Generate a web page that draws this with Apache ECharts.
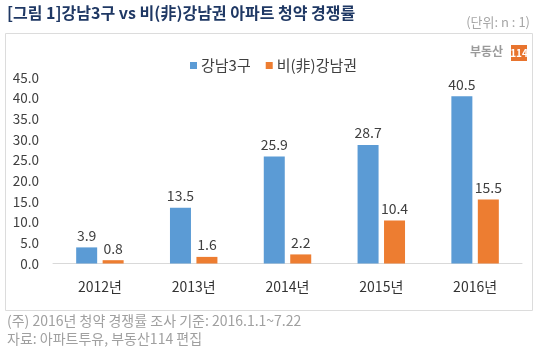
<!DOCTYPE html>
<html><head><meta charset="utf-8">
<script src="https://cdn.jsdelivr.net/npm/echarts@6/dist/echarts.min.js"></script>
<style>html,body{margin:0;padding:0;background:#fff}#c{width:540px;height:357px}</style>
</head><body><div id="c"></div>
<script>
var categories = ['2012년','2013년','2014년','2015년','2016년'];
var gangnam = [3.9, 13.5, 25.9, 28.7, 40.5];
var nonGangnam = [0.8, 1.6, 2.2, 10.4, 15.5];
var seriesNames = ['강남3구','비(非)강남권'];
var yTicks = {min:0, max:45, interval:5};
var FONT = '"Noto Sans CJK KR", "Noto Sans", sans-serif';

var chart = echarts.init(document.getElementById('c'));
chart.setOption({
  animation:false,
  textStyle:{fontFamily:FONT},
  graphic:[
    {type:'rect', shape:{x:5.5,y:33.5,width:527,height:277}, style:{fill:'#fff',stroke:'#dcdcdc',lineWidth:1}, z:-10},
    {type:'text', left:7, top:5, style:{text:'[그림 1]강남3구 vs 비(非)강남권 아파트 청약 경쟁률', font:'bold 16px '+FONT, fill:'#1f3864'}},
    {type:'text', right:10, top:16, style:{text:'(단위: n : 1)', font:'13px '+FONT, fill:'#a6a6a6'}},
    {type:'text', left:470, top:45, style:{text:'부동산', font:'bold 12px '+FONT, fill:'#9a9a9a'}},
    {type:'rect', shape:{x:511,y:45,width:16,height:16}, style:{fill:'#e8742e'}},
    {type:'text', x:519, y:53, style:{text:'114', font:'bold 10px '+FONT, fill:'#fff', textAlign:'center', textVerticalAlign:'middle'}}
    ,{type:'text', left:7, top:314, style:{text:'(주) 2016년 청약 경쟁률 조사 기준: 2016.1.1~7.22', font:'14px '+FONT, fill:'#a0a0a0'}},
    {type:'text', left:7, top:332, style:{text:'자료: 아파트투유, 부동산114 편집', font:'14px '+FONT, fill:'#a0a0a0'}}
  ],
  legend:{
    data:seriesNames, top:53, left:185, itemWidth:7, itemHeight:7, itemGap:15,
    icon:'rect',
    textStyle:{fontSize:15, color:'#404040', fontFamily:FONT, padding:[0,0,0,-1]}
  },
  grid:{left:53, right:18, top:77.7, bottom:93.5, containLabel:false},
  xAxis:{
    type:'category', data:categories,
    axisLine:{lineStyle:{color:'#d9d9d9'}},
    axisTick:{show:false},
    axisLabel:{fontSize:14, color:'#333', margin:16, fontFamily:FONT}
  },
  yAxis:{
    type:'value', min:yTicks.min, max:yTicks.max, interval:yTicks.interval,
    splitLine:{show:false}, axisLine:{show:false}, axisTick:{show:false},
    axisLabel:{fontSize:13.5, color:'#404040', margin:14, fontFamily:FONT,
      formatter:function(v){return v.toFixed(1);}}
  },
  series:[
    {name:seriesNames[0], type:'bar', data:gangnam, barWidth:21, barGap:'26%',
     itemStyle:{color:'#5b9bd5'},
     label:{show:true, position:'top', fontSize:14, color:'#404040', distance:5, fontFamily:FONT,
       formatter:function(p){return p.value.toFixed(1);}}},
    {name:seriesNames[1], type:'bar', data:nonGangnam, barWidth:21,
     itemStyle:{color:'#ed7d31'},
     label:{show:true, position:'top', fontSize:14, color:'#404040', distance:5, fontFamily:FONT,
       formatter:function(p){return p.value.toFixed(1);}}}
  ]
});
</script></body></html>
